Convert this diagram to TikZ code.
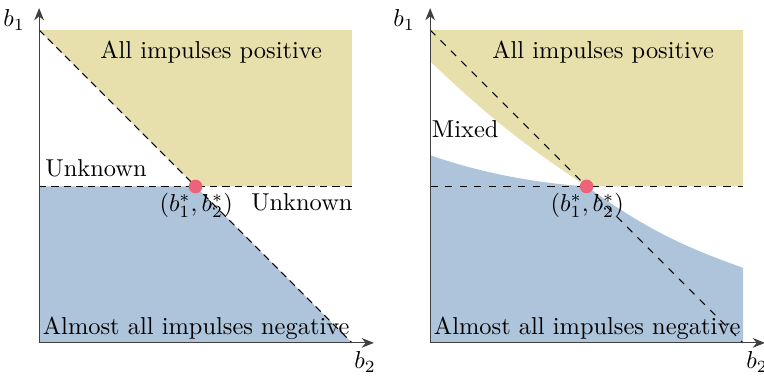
\documentclass[tikz,border=0pt]{standalone}
\usepackage{xcolor}
\definecolor{regyellow}{RGB}{231,224,172}
\definecolor{regblue}{RGB}{173,196,218}
\definecolor{optred}{RGB}{236,100,122}
\usetikzlibrary{arrows.meta,positioning}

\begin{document}
\begin{tikzpicture}[x=0.45cm,y=0.45cm,
  axis/.style={draw=black!75,-{Stealth[length=5pt,width=4pt]}},
  bound/.style={densely dashed,thin},
  optdot/.style={circle,fill=optred,inner sep=0pt,minimum size=5.6pt}]
  \useasboundingbox (-1.25,-1.03) rectangle (23.17,10.96);
  % left panel
  \fill[regyellow] (0,10) -- (10,10) -- (10,5) -- (5,5) -- cycle;
  \fill[regblue] (0,0) -- (0,5) -- (5,5) -- (10,0) -- cycle;
  \coordinate (oL) at (0,0);
  \coordinate (yL) at (0,10.7);
  \coordinate (xL) at (10.7,0);
  \draw[bound] (0,10) -- (10,0);
  \draw[bound] (0,5) -- (10,5);
  \draw[axis] (oL) -- (yL);
  \draw[axis] (oL) -- (xL);
  \node (b1L) at (-0.8,10.32) {$b_1$};
  \node (b2L) at (10.42,-0.62) {$b_2$};
  \node[optdot] (optL) at (5,5) {};
  \node (starL) at (5.02,4.39) {$(b_1^*, b_2^*)$};
  \node (posL) at (5.5,9.29) {All impulses positive};
  \node (unkL) at (1.82,5.58) {Unknown};
  \node (unkR) at (8.4,4.49) {Unknown};
  \node (negL) at (5.02,0.48) {Almost all impulses negative};
  % right panel
  \begin{scope}[shift={(12.5,0)}]
    \fill[regyellow] (0,10) -- (10,10) -- (10,5) -- (5,5) to[bend left=5] (0,9) -- cycle;
    \fill[regblue] (0,0) -- (0,6) .. controls (1.7,5.4) and (3.5,5.1) .. (5,5)
      to[bend right=8] (10,2.4) -- (10,0) -- cycle;
    \coordinate (oR) at (0,0);
    \coordinate (yR) at (0,10.7);
    \coordinate (xR) at (10.7,0);
    \draw[dashed,thin] (0,10) -- (10,0);
    \draw[dashed,thin] (0,5) -- (10,5);
    \draw[axis] (oR) -- (yR);
    \draw[axis] (oR) -- (xR);
    \node (b1R) at (-0.83,10.32) {$b_1$};
    \node (b2R) at (10.45,-0.62) {$b_2$};
    \node[optdot] (optR) at (5,5) {};
    \node (starR) at (5.02,4.39) {$(b_1^*, b_2^*)$};
    \node (posR) at (5.53,9.29) {All impulses positive};
    \node (mixR) at (1.12,6.83) {Mixed};
    \node (negR) at (5.02,0.48) {Almost all impulses negative};
  \end{scope}
\end{tikzpicture}
\end{document}
